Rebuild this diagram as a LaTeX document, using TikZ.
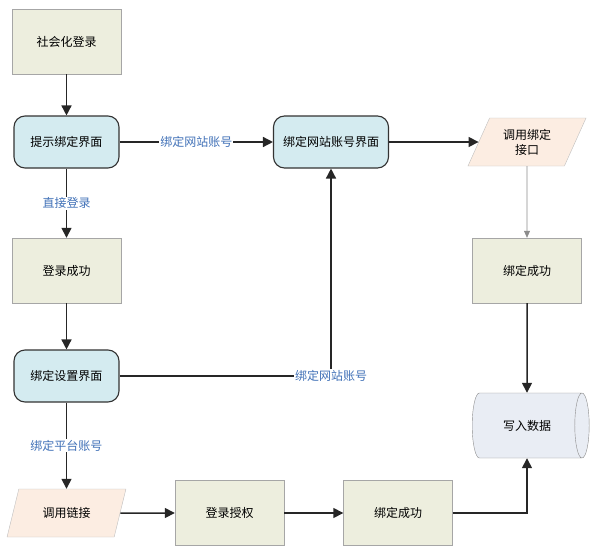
\documentclass[tikz,border=0pt]{standalone}
\usepackage{fontspec}
\setmainfont{Noto Sans CJK SC}
\usetikzlibrary{shapes.geometric,arrows.meta}

\definecolor{boxolive}{HTML}{EDEEDE}
\definecolor{screenblue}{HTML}{D4EBF0}
\definecolor{iopeach}{HTML}{FCEDE2}
\definecolor{storegray}{HTML}{E9EDF4}
\definecolor{tagblue}{HTML}{4272B8}

\begin{document}
\begin{tikzpicture}[x=1pt,y=-1pt,>={Triangle[length=10pt,width=10pt]},
    font=\fontsize{12}{15}\selectfont,
    process/.style={draw=black!35, fill=boxolive, minimum width=109pt, minimum height=65pt, inner sep=0pt},
    screen/.style={draw=black!80, line width=1.1pt, rounded corners=11pt, fill=screenblue,
                   minimum width=105pt, minimum height=52pt, inner sep=0pt},
    io/.style={trapezium, trapezium left angle=62, trapezium right angle=118, trapezium stretches=true,
               draw=black!25, fill=iopeach, minimum width=119pt, minimum height=48pt, inner sep=0pt, align=center},
    store/.style={cylinder, draw=black!45, fill=storegray, aspect=1.3,
                  minimum width=65pt, minimum height=117pt, inner sep=0pt},
    flow/.style={->, line width=1.5pt, draw=black!85},
    tag/.style={fill=white, text=tagblue, inner sep=1pt}]

    % Fix the page size
    \useasboundingbox (0,0) rectangle (600,554);

    % Left column
    \node[process] (social)  at (66.5,41.5)  {社会化登录};
    \node[screen]  (hint)    at (66.5,142)   {提示绑定界面};
    \node[process] (loginok) at (66.5,270.5) {登录成功};
    \node[screen]  (setting) at (66.5,376)   {绑定设置界面};
    \node[io]      (calllink) at (66.5,513)  {调用链接};

    % Bottom row
    \node[process] (auth)    at (229.5,513) {登录授权};
    \node[process] (bindok)  at (398,513)   {绑定成功};

    % Middle and right column
    \node[screen, minimum width=115pt] (bindweb) at (331,142) {绑定网站账号界面};
    \node[io]      (callapi) at (527,142)   {调用绑定\\接口};
    \node[process] (apiok)   at (527,270.5) {绑定成功};
    \node[store]   (store)   at (527,425.5) {写入数据};

    % Connectors
    \draw[flow] (social) -- (hint);
    \draw[flow] (hint) -- node[tag]{绑定网站账号} (bindweb);
    \draw[flow] (hint) -- node[tag]{直接登录} (loginok);
    \draw[flow] (loginok) -- (setting);
    \draw[flow] (setting) -| node[tag]{绑定网站账号} (bindweb);
    \draw[flow] (setting) -- node[tag]{绑定平台账号} (calllink);
    \draw[flow] (calllink) -- (auth);
    \draw[flow] (auth) -- (bindok);
    \draw[flow] (bindok) -| (store);
    \draw[flow] (bindweb) -- (callapi);
    \draw[->, >={Triangle[length=7pt,width=6pt]}, draw=black!45, line width=0.6pt] (callapi) -- (apiok);
    \draw[flow] (apiok) -- (store);

\end{tikzpicture}
\end{document}
